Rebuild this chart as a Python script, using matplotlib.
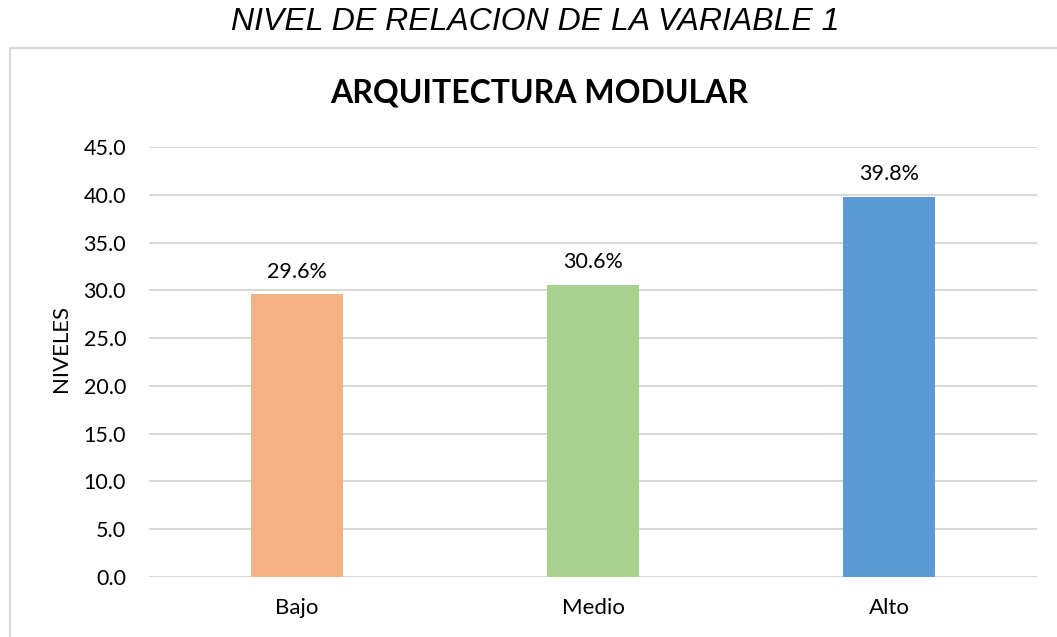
import matplotlib.pyplot as plt
from matplotlib.patches import Rectangle

categorias = ['Bajo', 'Medio', 'Alto']
valores = [29.6, 30.6, 39.8]
etiquetas = ['29.6%', '30.6%', '39.8%']
colores = ['#F4B183', '#A9D18E', '#5B9BD5']
yticks = [0, 5, 10, 15, 20, 25, 30, 35, 40, 45]

fuente = 'Lato'

fig = plt.figure(figsize=(10.57, 6.37), dpi=100)
ax = fig.add_axes([149 / 1057, 1 - 577 / 637, 888 / 1057, 430 / 637])

# marco del grafico (estilo Excel)
fig.patches.append(Rectangle((10 / 1057, -0.1), 1.2, 1 - 48 / 637 + 0.1,
                             transform=fig.transFigure, fill=False,
                             edgecolor='#D9D9D9', linewidth=1.5))

x = range(len(categorias))
bars = ax.bar(x, valores, width=0.314, color=colores, zorder=3)
for b, t in zip(bars, etiquetas):
    ax.annotate(t, (b.get_x() + b.get_width() / 2, b.get_height()),
                xytext=(0, 9), textcoords='offset points',
                ha='center', va='bottom', fontsize=15.5, family=fuente)

ax.set_xlim(-0.5, 2.5)
ax.set_ylim(0, 45)
ax.set_yticks(yticks)
ax.set_yticklabels([f'{v:.1f}' for v in yticks], fontsize=15.5, family=fuente)
ax.set_xticks(list(x))
ax.set_xticklabels(categorias, fontsize=16, family=fuente)
ax.tick_params(axis='y', length=0, pad=16.5)
ax.tick_params(axis='x', length=0, pad=15)
ax.grid(axis='y', color='#D9D9D9', linewidth=1.5, zorder=0)
for s in ax.spines.values():
    s.set_visible(False)

fig.text(61 / 1057, 1 - 348 / 637, 'NIVELES', rotation=90, ha='center',
         va='center', fontsize=16, family=fuente)

fig.text(535 / 1057, 1 - 22 / 637, 'NIVEL DE RELACION DE LA VARIABLE 1',
         ha='center', va='center', fontsize=23, style='italic',
         family='Liberation Sans')
fig.text(539 / 1057, 1 - 93 / 637, 'ARQUITECTURA MODULAR',
         ha='center', va='center', fontsize=23, weight='bold', family=fuente)

plt.savefig('out.png', dpi=100)
